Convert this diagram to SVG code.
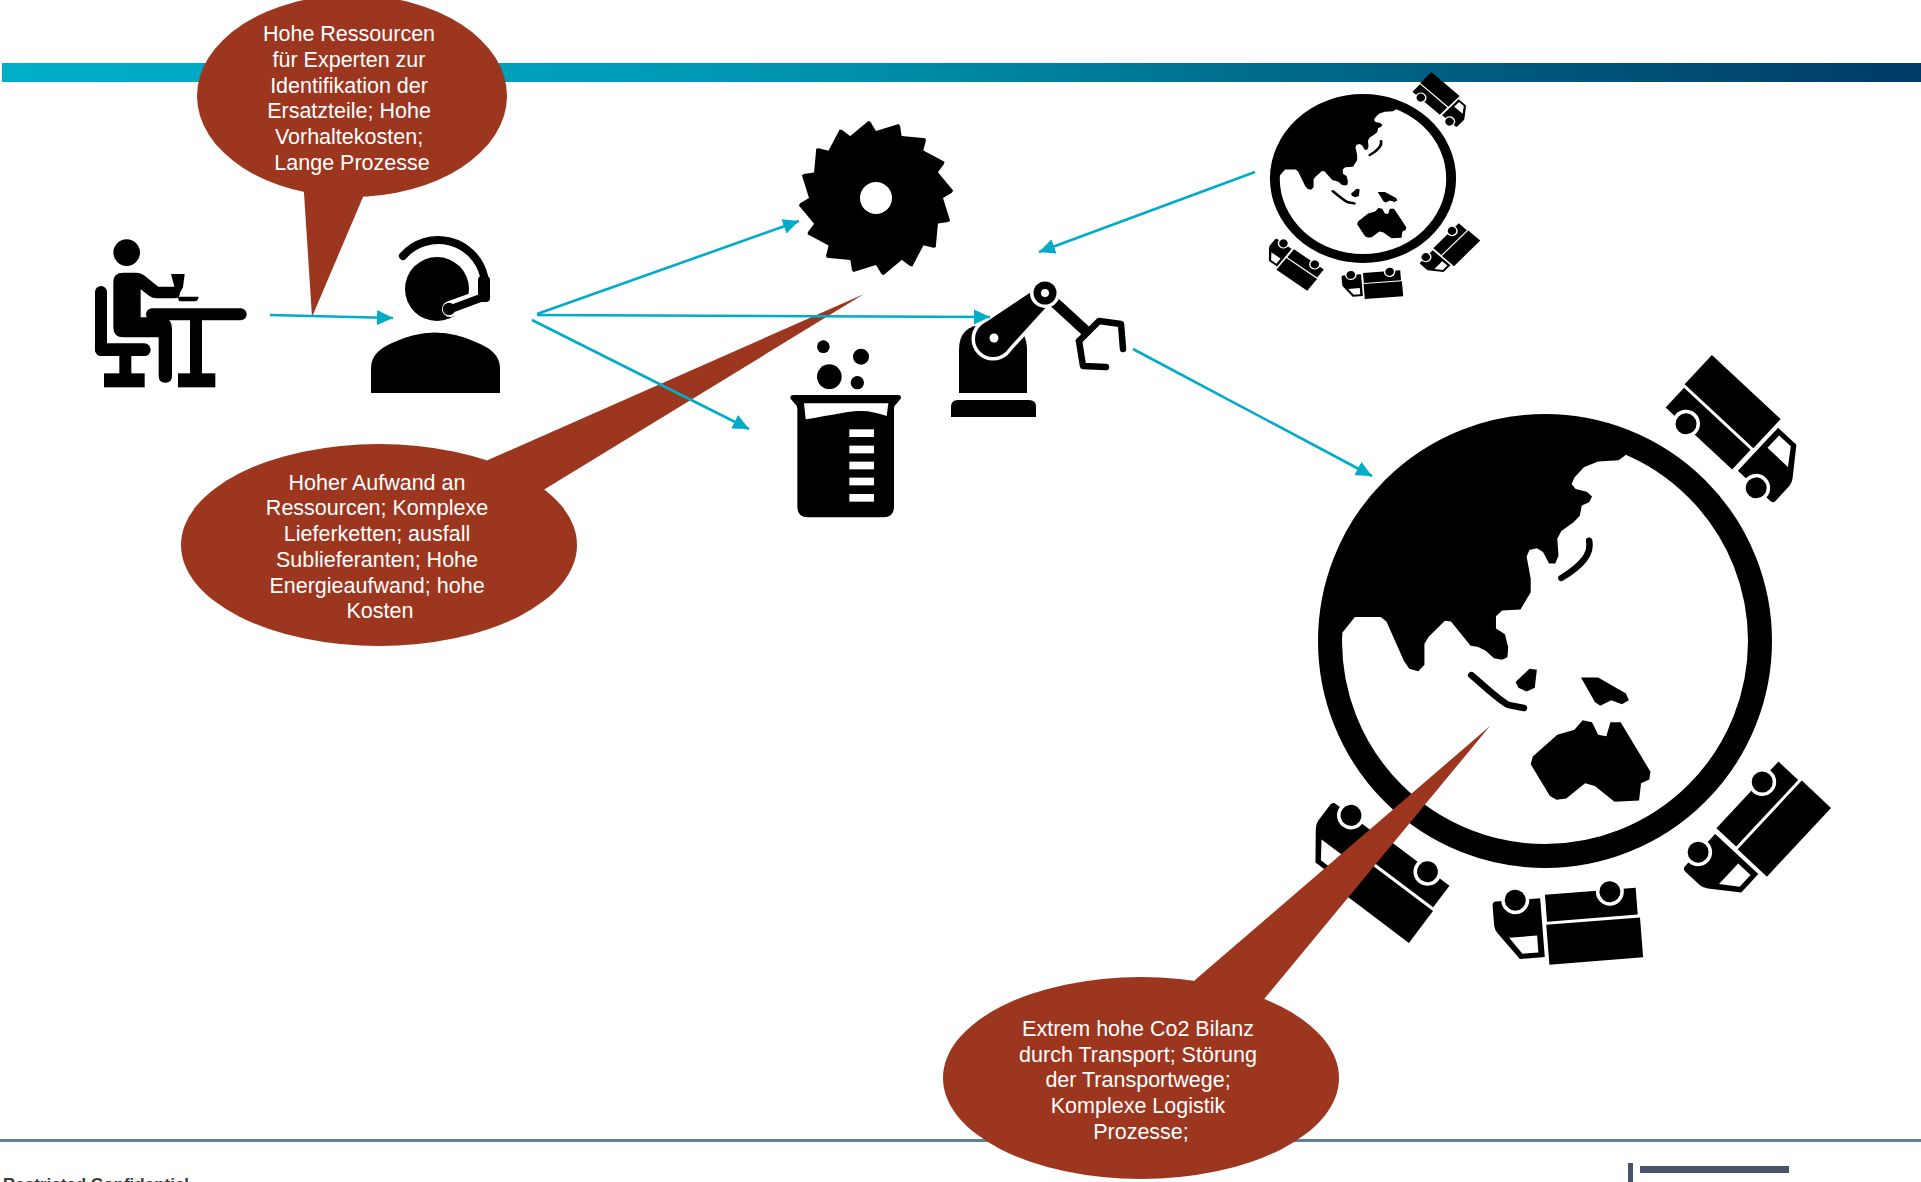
<svg xmlns="http://www.w3.org/2000/svg" xmlns:xlink="http://www.w3.org/1999/xlink" width="1921" height="1182" viewBox="0 0 1921 1182">
  <style>
    .ink { fill: #000; }
    .paper { fill: #fff; }
    .bubble { fill: #9D361F; }
    .btxt { font-family: "Liberation Sans", Arial, sans-serif; font-size: 21.5px; fill: #fff; text-anchor: middle; }
    .conn { stroke: #00ACC8; stroke-width: 2.6; fill: none; marker-end: url(#arrow); }
    .foot { font-family: "Liberation Sans", Arial, sans-serif; font-size: 17px; font-weight: bold; fill: #3a3a3a; }
  </style>
  <defs>
    <linearGradient id="barGrad" x1="0" y1="0" x2="1" y2="0">
      <stop offset="0" stop-color="#00AEC8"/>
      <stop offset="0.33" stop-color="#009CB9"/>
      <stop offset="0.5" stop-color="#0088A4"/>
      <stop offset="0.67" stop-color="#006A8A"/>
      <stop offset="1" stop-color="#003B66"/>
    </linearGradient>
    <marker id="arrow" viewBox="0 0 16 15" refX="16" refY="7.5" markerWidth="16" markerHeight="15" markerUnits="userSpaceOnUse" orient="auto">
      <path d="M0,0 L16,7.5 L0,15 Z" fill="#00ACC8"/>
    </marker>
    <!-- one saw tooth wedge, repeated round the blade -->
    <path id="tooth" d="M0,0 L67,0 L74.1,22.7 L72.1,24.1 L61.9,25.6 Z"/>
    <!-- delivery truck, upright and facing right, wheels at the bottom -->
    <g id="truck">
      <rect x="-73" y="-39" width="94" height="40"/>
      <rect x="-71" y="4" width="91" height="27"/>
      <path d="M25,-31 H50 L70,-4 Q73,0 73,4 V24 Q73,28 69,28 H25 Z"/>
      <path d="M31,-26 H47 L59,-9 H31 Z" fill="#fff"/>
      <circle cx="-45" cy="29" r="14" fill="#fff"/>
      <circle cx="-45" cy="29" r="10.5"/>
      <circle cx="50" cy="28" r="14" fill="#fff"/>
      <circle cx="50" cy="28" r="10.5"/>
    </g>
    <clipPath id="globeClip">
      <circle cx="0" cy="0" r="206"/>
    </clipPath>
    <!-- globe with Asia/Australia and four trucks, centred on 0,0 -->
    <g id="globe">
      <g clip-path="url(#globeClip)">
        <g transform="translate(-265.7,-261) scale(0.4088,0.3823)">
          <path d="M860,180 L845,198 L830,210 L780,213 L745,228 L722,255 L715,272 L725,285 L752,292 L765,305 L758,320 L740,328 L735,355 L720,372 L690,395 L680,415 L683,460 L675,480 L660,480 L645,450 L630,440 L612,445 L605,462 L615,520 L615,555 L590,600 L545,603 L530,618 L530,650 L552,665 L560,700 L558,725 L545,732 L525,728 L505,708 L485,698 L468,695 L420,632 L405,630 L365,672 L355,690 L355,745 L340,762 L318,755 L305,735 L262,632 L248,620 L185,620 L155,660 L100,665 L0,665 L0,0 L860,0 Z"/>
          <path d="M758,420 C765,455 740,485 690,518" fill="none" stroke="#000" stroke-width="16" stroke-linecap="round"/>
          <path d="M470,772 C500,800 540,840 560,850 L598,858" fill="none" stroke="#000" stroke-width="17" stroke-linecap="round"/>
          <path d="M578,790 L612,755 L630,758 L625,805 L605,815 L585,805 Z"/>
          <path d="M738,778 L780,778 L848,820 L855,838 L838,848 L812,838 L785,852 L772,842 Z"/>
          <path d="M620,985 L680,928 L722,915 L742,890 L765,895 L780,928 L800,932 L810,895 L835,895 L880,975 L908,1025 L905,1045 L885,1055 L880,1100 L820,1103 L772,1062 L748,1055 L702,1095 L678,1098 L662,1088 L615,1005 Z"/>
        </g>
      </g>
      <circle cx="0" cy="0" r="215" fill="none" stroke="#000" stroke-width="24"/>
      <use xlink:href="#truck" href="#truck" transform="rotate(43) translate(0,-284)"/>
      <use xlink:href="#truck" href="#truck" transform="rotate(133) translate(0,-284)"/>
      <use xlink:href="#truck" href="#truck" transform="rotate(175.5) translate(0,-284)"/>
      <use xlink:href="#truck" href="#truck" transform="rotate(217) translate(0,-284)"/>
    </g>
  </defs>

  <rect x="0" y="0" width="1921" height="1182" fill="#fff"/>

  <!-- header band and footer -->
  <rect x="2" y="63" width="1919" height="19" fill="url(#barGrad)"/>
  <rect x="0" y="1139" width="1921" height="3" fill="#5C7FA2"/>
  <rect x="1628" y="1163" width="5" height="19" fill="#47536A"/>
  <rect x="1640" y="1166" width="149" height="7" fill="#47536A"/>
  <text class="foot" x="3" y="1190">Restricted Confidential</text>

  <!-- worker at desk -->
  <g id="desk-worker" class="ink" transform="translate(90,230) scale(0.33333)">
    <circle cx="110" cy="68" r="40"/>
    <path d="M70,155 Q70,128 100,128 L140,128 Q152,128 162,136 L205,170 L252,170 Q270,172 270,188 Q270,205 252,205 L200,205 Q188,205 178,198 L152,178 L152,262 L215,262 Q246,265 246,296 L246,438 Q246,458 226,458 Q206,458 206,438 L206,322 L100,322 Q70,322 70,292 Z"/>
    <rect x="15" y="168" width="36" height="208" rx="18"/>
    <rect x="15" y="340" width="167" height="38" rx="19"/>
    <rect x="88" y="370" width="36" height="65"/>
    <rect x="42" y="430" width="122" height="42"/>
    <rect x="168" y="235" width="302" height="36" rx="18"/>
    <rect x="300" y="265" width="36" height="170"/>
    <rect x="264" y="430" width="112" height="42"/>
    <path d="M243,132 L284,132 L279,172 L270,188 L262,188 L255,178 Z"/>
    <path d="M262,200 L326,200 Q324,212 316,214 L268,214 Z"/>
  </g>

  <!-- support agent with headset -->
  <g id="support-agent" class="ink">
    <circle cx="437" cy="289" r="32"/>
    <path d="M450,309 L486,296" stroke="#fff" stroke-width="16" stroke-linecap="round"/>
    <path d="M403,256 A47,47 0 0 1 484,276" fill="none" stroke="#000" stroke-width="8" stroke-linecap="round"/>
    <rect x="478" y="276" width="12" height="26" rx="4"/>
    <path d="M451,309 L486,296" stroke="#000" stroke-width="8" stroke-linecap="round"/>
    <circle cx="449" cy="309" r="6.2"/>
    <path d="M371,393 L371,368 Q371,352 392,343 Q435,322 478,343 Q500,352 500,368 L500,393 Z"/>
  </g>

  <!-- circular saw blade -->
  <g id="saw-blade" class="ink" transform="translate(876,198)">
    <circle r="67"/>
    <use xlink:href="#tooth" href="#tooth" transform="rotate(0)"/>
    <use xlink:href="#tooth" href="#tooth" transform="rotate(22.5)"/>
    <use xlink:href="#tooth" href="#tooth" transform="rotate(45)"/>
    <use xlink:href="#tooth" href="#tooth" transform="rotate(67.5)"/>
    <use xlink:href="#tooth" href="#tooth" transform="rotate(90)"/>
    <use xlink:href="#tooth" href="#tooth" transform="rotate(112.5)"/>
    <use xlink:href="#tooth" href="#tooth" transform="rotate(135)"/>
    <use xlink:href="#tooth" href="#tooth" transform="rotate(157.5)"/>
    <use xlink:href="#tooth" href="#tooth" transform="rotate(180)"/>
    <use xlink:href="#tooth" href="#tooth" transform="rotate(202.5)"/>
    <use xlink:href="#tooth" href="#tooth" transform="rotate(225)"/>
    <use xlink:href="#tooth" href="#tooth" transform="rotate(247.5)"/>
    <use xlink:href="#tooth" href="#tooth" transform="rotate(270)"/>
    <use xlink:href="#tooth" href="#tooth" transform="rotate(292.5)"/>
    <use xlink:href="#tooth" href="#tooth" transform="rotate(315)"/>
    <use xlink:href="#tooth" href="#tooth" transform="rotate(337.5)"/>
    <circle r="16" class="paper"/>
  </g>

  <!-- lab beaker with bubbles -->
  <g id="beaker" class="ink" transform="translate(770,330) scale(0.33333)">
    <circle cx="160" cy="50" r="19"/>
    <circle cx="273" cy="80" r="24"/>
    <circle cx="178" cy="140" r="37"/>
    <circle cx="262" cy="158" r="20"/>
    <path d="M62,206 Q58,195 72,195 L382,195 Q396,195 392,206 L382,218 Q372,226 372,236 L372,530 Q372,562 340,562 L114,562 Q82,562 82,530 L82,236 Q82,226 72,218 Z"/>
    <path class="paper" d="M102,220 L355,220 L350,258 C318,247 288,240 252,244 C205,250 150,262 107,268 Z"/>
    <g class="paper">
      <rect x="238" y="298" width="74" height="23"/>
      <rect x="238" y="347" width="74" height="23"/>
      <rect x="238" y="395" width="74" height="23"/>
      <rect x="238" y="443" width="74" height="23"/>
      <rect x="238" y="492" width="74" height="23"/>
    </g>
  </g>

  <!-- industrial robot arm -->
  <g id="robot-arm" class="ink">
    <path d="M959,393 V350 Q959,325 984,325 H1002 Q1027,325 1027,350 V393 Z"/>
    <path d="M951,417 V407 Q951,400 958,400 H1029 Q1036,400 1036,407 V417 Z"/>
    <g fill="#fff" stroke="#fff" stroke-width="7" stroke-linejoin="round">
      <path d="M981.3,325.3 L1036.5,288.4 L1049.5,303.6 L1004.7,352.7 Z"/>
      <circle cx="993" cy="339" r="18"/>
    </g>
    <path d="M981.3,325.3 L1036.5,288.4 L1049.5,303.6 L1004.7,352.7 Z"/>
    <circle cx="993" cy="339" r="18"/>
    <circle cx="994" cy="338" r="4.5" class="paper"/>
    <path d="M1052,300 L1088,333" stroke="#000" stroke-width="11"/>
    <circle cx="1045" cy="293" r="15" class="paper"/>
    <circle cx="1045" cy="293" r="11.5"/>
    <circle cx="1045" cy="293" r="4" class="paper"/>
    <g fill="none" stroke="#000" stroke-width="6.5" stroke-linejoin="round" stroke-linecap="round">
      <path d="M1079,341 L1094,326 L1099,321 L1121,324 L1123,349"/>
      <path d="M1079,341 L1083,366 L1106,367"/>
    </g>
  </g>

  <!-- small globe with trucks -->
  <g id="globe-small">
    <use xlink:href="#globe" href="#globe" transform="translate(1363,178.5) scale(0.41,0.372)"/>
  </g>

  <!-- large globe with trucks -->
  <g id="globe-large">
    <use xlink:href="#globe" href="#globe" transform="translate(1545,641)"/>
  </g>

  <!-- speech bubbles -->
  <g id="note-experts">
    <ellipse class="bubble" cx="352" cy="96" rx="155" ry="101"/>
    <polygon class="bubble" points="302,180 304,193 312,317 363,197 366,180"/>
    <text class="btxt">
      <tspan x="352" y="41">Hohe Ressourcen</tspan>
      <tspan x="352" y="66.8">für Experten zur</tspan>
      <tspan x="352" y="92.6">Identifikation der</tspan>
      <tspan x="352" y="118.4">Ersatzteile; Hohe</tspan>
      <tspan x="352" y="144.2">Vorhaltekosten;</tspan>
      <tspan x="352" y="170">Lange Prozesse</tspan>
    </text>
  </g>
  <g id="note-production">
    <ellipse class="bubble" cx="379" cy="545" rx="198" ry="101"/>
    <polygon class="bubble" points="480,470 488,460 864,294 545,489 535,495"/>
    <text class="btxt">
      <tspan x="380" y="489.5">Hoher Aufwand an</tspan>
      <tspan x="380" y="515.3">Ressourcen; Komplexe</tspan>
      <tspan x="380" y="541">Lieferketten; ausfall</tspan>
      <tspan x="380" y="566.8">Sublieferanten; Hohe</tspan>
      <tspan x="380" y="592.6">Energieaufwand; hohe</tspan>
      <tspan x="380" y="618.4">Kosten</tspan>
    </text>
  </g>
  <g id="note-transport">
    <ellipse class="bubble" cx="1141" cy="1078" rx="198" ry="101"/>
    <polygon class="bubble" points="1190,990 1195,980 1490,726 1265,998 1260,1005"/>
    <text class="btxt">
      <tspan x="1141" y="1036">Extrem hohe Co2 Bilanz</tspan>
      <tspan x="1141" y="1061.6">durch Transport; Störung</tspan>
      <tspan x="1141" y="1087.4">der Transportwege;</tspan>
      <tspan x="1141" y="1113.2">Komplexe Logistik</tspan>
      <tspan x="1141" y="1139">Prozesse;</tspan>
    </text>
  </g>

  <!-- connectors -->
  <g id="connectors">
    <path class="conn" d="M270,315 L393,318"/>
    <path class="conn" d="M537,314 L799,221"/>
    <path class="conn" d="M537,315 L990,317"/>
    <path class="conn" d="M532,320 L749,429"/>
    <path class="conn" d="M1255,172 L1039,252"/>
    <path class="conn" d="M1133,349 L1372,476"/>
  </g>
</svg>
